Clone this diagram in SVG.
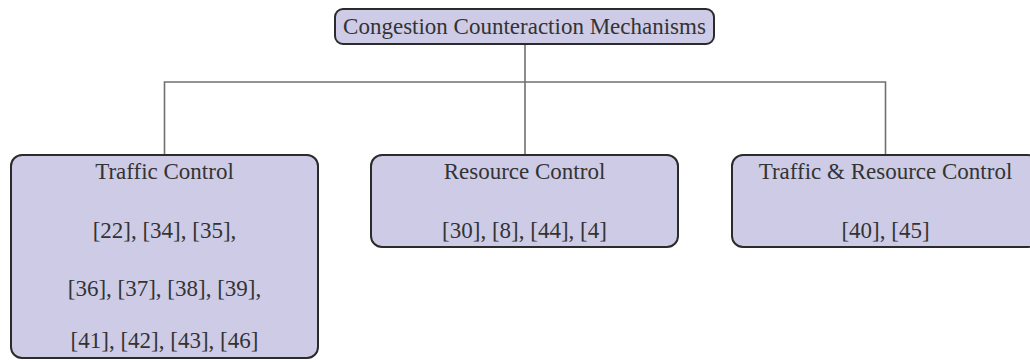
<svg xmlns="http://www.w3.org/2000/svg" width="1030" height="362" viewBox="0 0 1030 362">
  <style>
    .box { fill: #cdcbe6; stroke: #2b2b2b; stroke-width: 2; }
    .lbl { font-family: "Liberation Serif", "Times New Roman", serif; font-size: 23px; fill: #333333; text-anchor: middle; }
    .wire { fill: none; stroke: #707070; stroke-width: 1.6; }
  </style>
  <rect width="1030" height="362" fill="#ffffff"/>

  <!-- tree connectors -->
  <g id="connectors">
    <path class="wire" d="M525 44 V155"/>
    <path class="wire" d="M164.5 155 V82 H885.5 V155"/>
  </g>

  <g id="root">
    <rect class="box" x="335" y="9" width="379" height="35" rx="8"/>
    <text class="lbl" x="524.5" y="34">Congestion Counteraction Mechanisms</text>
  </g>

  <g id="traffic-control">
    <rect class="box" x="11" y="155" width="307" height="203" rx="11"/>
    <text class="lbl" x="164.5" y="179">Traffic Control</text>
    <text class="lbl" x="164.5" y="238">[22], [34], [35],</text>
    <text class="lbl" x="164.5" y="296">[36], [37], [38], [39],</text>
    <text class="lbl" x="164.5" y="348">[41], [42], [43], [46]</text>
  </g>

  <g id="resource-control">
    <rect class="box" x="371" y="155" width="307" height="92" rx="11"/>
    <text class="lbl" x="524.5" y="179">Resource Control</text>
    <text class="lbl" x="524.5" y="238">[30], [8], [44], [4]</text>
  </g>

  <g id="traffic-resource-control">
    <rect class="box" x="732" y="155" width="307" height="92" rx="11"/>
    <text class="lbl" x="885.5" y="179">Traffic &amp; Resource Control</text>
    <text class="lbl" x="885.5" y="238">[40], [45]</text>
  </g>
</svg>
